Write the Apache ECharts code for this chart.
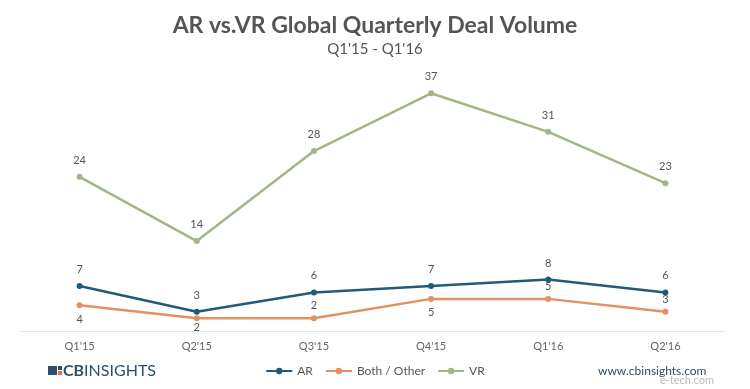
<!DOCTYPE html>
<html><head><meta charset="utf-8">
<script src="https://cdn.jsdelivr.net/npm/echarts@6/dist/echarts.min.js"></script>
<style>html,body{margin:0;padding:0;background:#fff}#c{width:750px;height:389px}</style>
</head><body><div id="c"></div>
<script>
const categories = ["Q1'15","Q2'15","Q3'15","Q4'15","Q1'16","Q2'16"];
const arValues = [7,3,6,7,8,6];
const bothValues = [4,2,2,5,5,3];
const vrValues = [24,14,28,37,31,23];
const bothLabelPos = ['bottom','bottom','top','bottom','top','top'];
const bothLabelDist = [6, 1, 4, 5, 4, 4];

const font = "Lato, 'Open Sans', sans-serif";
const chart = echarts.init(document.getElementById('c'));
function line(name, data, color, pos) {
  return {
    name, type: 'line', data, symbol: 'circle', symbolSize: 6,
    lineStyle: {color, width: 2.5}, itemStyle: {color},
    label: {show: true, position: pos, color: '#555', fontFamily: font, fontSize: 11, distance: 8},
    emphasis: {disabled: true}
  };
}
const bothSeries = line('Both / Other', bothValues.map((v, i) => ({value: v, label: {position: bothLabelPos[i], distance: bothLabelDist[i]}})), '#e39160', 'bottom');
chart.setOption({
  animation: false,
  title: {
    text: 'AR vs.VR Global Quarterly Deal Volume',
    subtext: "Q1'15 - Q1'16",
    left: 'center', top: 9, itemGap: 5,
    textStyle: {fontFamily: font, fontSize: 23, fontWeight: 'bold', color: '#555'},
    subtextStyle: {fontFamily: font, fontSize: 15, color: '#555'}
  },
  legend: {
    bottom: 7, left: 'center', itemWidth: 26, itemHeight: 8, itemGap: 12,
    textStyle: {fontFamily: font, fontSize: 12, color: '#555'},
    data: ['AR', 'Both / Other', 'VR']
  },
  grid: {left: 21, right: 26, top: 74, bottom: 58},
  xAxis: {
    type: 'category', data: categories,
    axisLine: {lineStyle: {color: '#e6e6e6', width: 1}},
    axisTick: {show: false},
    axisLabel: {color: '#666', fontFamily: font, fontSize: 11, margin: 10}
  },
  yAxis: {type: 'value', min: 0, max: 40, show: false, splitLine: {show: false}},
  series: [
    line('AR', arValues, '#1f5c7c', 'top'),
    bothSeries,
    line('VR', vrValues, '#a2b789', 'top')
  ],
  graphic: [
    {type: 'rect', left: 48, top: 366, shape: {width: 9, height: 9}, style: {fill: '#2d4e6b'}},
    {type: 'rect', left: 58, top: 366, shape: {width: 4, height: 4}, style: {fill: '#2d4e6b'}},
    {type: 'rect', left: 58, top: 371, shape: {width: 4, height: 4}, style: {fill: '#e2704a'}},
    {type: 'text', left: 63, top: 363, style: {
      text: '{b|CB}{n|INSIGHTS}',
      rich: {
        b: {fontFamily: font, fontSize: 16, fontWeight: 'bold', fill: '#2d4e6b'},
        n: {fontFamily: font, fontSize: 16, fill: '#2d4e6b'}
      }
    }},
    {type: 'text', left: 598, top: 365, style: {text: 'www.cbinsights.com', fontFamily: font, fontSize: 12, fill: '#2d4e6b'}},
    {type: 'text', left: 660, top: 375, style: {text: 'e-tech.com', fontFamily: font, fontSize: 11, fill: '#bbb'}}
  ]
});
</script>
</body></html>
